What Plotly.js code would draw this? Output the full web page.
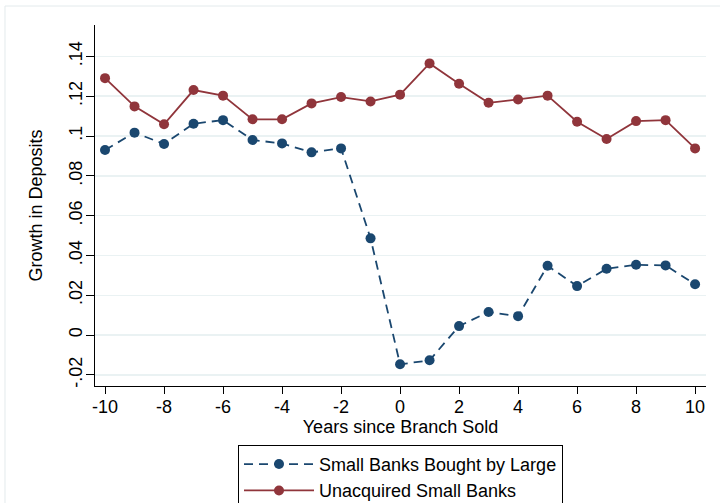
<!DOCTYPE html>
<html>
<head>
<meta charset="utf-8">
<script src="https://cdn.plot.ly/plotly-3.0.1.min.js"></script>
<style>
  html, body { margin: 0; padding: 0; background: #ffffff; }
  #chart { width: 720px; height: 503px; }
</style>
</head>
<body>
<div id="chart"></div>
<script>
// Years relative to the branch sale
const years = [-10, -9, -8, -7, -6, -5, -4, -3, -2, -1, 0, 1, 2, 3, 4, 5, 6, 7, 8, 9, 10];

// Deposit growth, small banks later bought by a large bank
const boughtByLarge = [0.0930, 0.1017, 0.0960, 0.1062, 0.1080, 0.0980, 0.0963, 0.0918, 0.0938, 0.0486,
                       -0.0147, -0.0127, 0.0045, 0.0116, 0.0095, 0.0348, 0.0246, 0.0333, 0.0353, 0.0350, 0.0255];

// Deposit growth, small banks never acquired
const unacquired = [0.1291, 0.1149, 0.1059, 0.1231, 0.1203, 0.1084, 0.1084, 0.1164, 0.1196, 0.1174,
                    0.1208, 0.1365, 0.1263, 0.1167, 0.1184, 0.1203, 0.1072, 0.0985, 0.1075, 0.1080, 0.0938];

const seriesNames = ["Small Banks Bought by Large", "Unacquired Small Banks"];

// Axis ticks
const xTicks = [-10, -8, -6, -4, -2, 0, 2, 4, 6, 8, 10];
const yTickVals = [-0.02, 0, 0.02, 0.04, 0.06, 0.08, 0.1, 0.12, 0.14];
const yTickText = ["-.02", "0", ".02", ".04", ".06", ".08", ".1", ".12", ".14"];

const FONT = "Liberation Sans, Arial, Helvetica, sans-serif";
const NAVY = "#1a476f";
const MAROON = "#90353b";

const traces = [
  {
    x: years, y: boughtByLarge, name: seriesNames[0],
    type: "scatter", mode: "lines+markers",
    line: { color: NAVY, width: 1.8, dash: "9px,6px" },
    marker: { color: NAVY, size: 10 }
  },
  {
    x: years, y: unacquired, name: seriesNames[1],
    type: "scatter", mode: "lines+markers",
    line: { color: MAROON, width: 1.8 },
    marker: { color: MAROON, size: 10 }
  }
];

const layout = {
  width: 720, height: 503,
  margin: { l: 95, r: 14, t: 25, b: 117, autoexpand: false },
  paper_bgcolor: "#ffffff",
  plot_bgcolor: "#ffffff",
  font: { family: FONT, size: 18, color: "#000000" },
  showlegend: true,
  legend: {
    x: 0.5, xanchor: "center",
    y: -0.163, yanchor: "top",
    bordercolor: "#000000", borderwidth: 1,
    bgcolor: "#ffffff",
    itemwidth: 70,
    tracegroupgap: 0,
    font: { family: FONT, size: 18, color: "#000000" }
  },
  xaxis: {
    range: [-10.34, 10.37],
    tickvals: xTicks,
    ticktext: xTicks.map(String),
    ticks: "outside", ticklen: 7, tickwidth: 1, tickcolor: "#000000",
    ticklabelstandoff: -3,
    showline: true, linecolor: "#000000", linewidth: 1,
    showgrid: false, zeroline: false,
    tickfont: { family: FONT, size: 18 },
    title: { text: "Years since Branch Sold", font: { family: FONT, size: 18 }, standoff: 0 },
    automargin: false
  },
  yaxis: {
    range: [-0.0256, 0.1558],
    tickvals: yTickVals,
    ticktext: yTickText,
    tickangle: -90,
    ticks: "outside", ticklen: 8, tickwidth: 1, tickcolor: "#000000",
    ticklabelstandoff: -3,
    showline: true, linecolor: "#000000", linewidth: 1,
    showgrid: true, gridcolor: "#eaf2f3", gridwidth: 1.5,
    zeroline: false,
    tickfont: { family: FONT, size: 18 },
    title: { text: "Growth in Deposits", font: { family: FONT, size: 18 }, standoff: 18 },
    automargin: false
  },
  shapes: [
    {
      type: "rect", xref: "paper", yref: "paper",
      x0: -0.1473, x1: 1.06, y0: -0.36, y1: 1.0526,
      line: { color: "#e3eaec", width: 1 },
      fillcolor: "rgba(0,0,0,0)",
      layer: "below"
    }
  ]
};

Plotly.newPlot("chart", traces, layout, { displayModeBar: false, staticPlot: true });
</script>
</body>
</html>
